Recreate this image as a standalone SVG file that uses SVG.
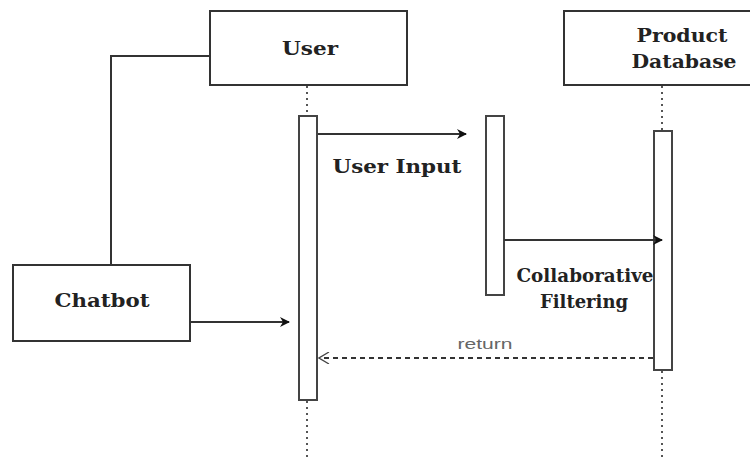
<svg xmlns="http://www.w3.org/2000/svg" width="750" height="457" viewBox="0 0 750 457">
<defs>
<marker id="fill" viewBox="0 0 10 10" refX="9" refY="5" markerWidth="10" markerHeight="10" markerUnits="userSpaceOnUse" orient="auto"><path d="M0,0 L10,5 L0,10 L3,5 Z" fill="#111"/></marker>
<marker id="open" viewBox="0 0 12 12" refX="11" refY="6" markerWidth="12" markerHeight="12" markerUnits="userSpaceOnUse" orient="auto"><path d="M1,0 L11,6 L1,12" fill="none" stroke="#444" stroke-width="1.3"/></marker>
<style>
.box{fill:#fff;stroke:#333;stroke-width:2}
.act{fill:#fff;stroke:#444;stroke-width:2}
.life{stroke:#555;stroke-width:2;stroke-dasharray:2,4;fill:none}
.line{stroke:#333;stroke-width:2;fill:none}
.t{font-family:"DejaVu Serif","Liberation Serif",serif;font-weight:bold;font-size:19px;fill:#222;text-anchor:middle}
.r{font-family:"Liberation Sans",sans-serif;font-size:14px;fill:#666;text-anchor:middle}
</style>
</defs>
<g id="lifelines">
<path class="life" d="M307,86 V115 M307,401 V457"/>
<path class="life" d="M662,86 V130 M662,371 V457"/>
</g>
<g id="user">
<rect class="box" x="210" y="11" width="197" height="74"/>
<text class="t" x="310" y="55" textLength="56" lengthAdjust="spacingAndGlyphs">User</text>
</g>
<g id="product-database">
<rect class="box" x="564" y="11" width="196" height="74"/>
<text class="t" x="682" y="42" textLength="91" lengthAdjust="spacingAndGlyphs">Product</text>
<text class="t" x="684" y="68" textLength="105" lengthAdjust="spacingAndGlyphs">Database</text>
</g>
<g id="chatbot">
<rect class="box" x="13" y="265" width="177" height="76"/>
<text class="t" x="102" y="307" textLength="95" lengthAdjust="spacingAndGlyphs">Chatbot</text>
</g>
<g id="user-activation"><rect class="act" x="299" y="116" width="18" height="284"/></g>
<g id="mid-activation"><rect class="act" x="486" y="116" width="18" height="179"/></g>
<g id="db-activation"><rect class="act" x="654" y="131" width="18" height="239"/></g>
<g id="connectors">
<path class="line" d="M210,56 H111 V265"/>
<path class="line" d="M190,322 H289" marker-end="url(#fill)"/>
<path class="line" d="M318,134 H466" marker-end="url(#fill)"/>
<path class="line" d="M504,240 H662" marker-end="url(#fill)"/>
<path class="line" d="M653,358 H319" stroke-dasharray="5,4" stroke="#444" stroke-width="1.5" marker-end="url(#open)"/>
</g>
<g id="labels">
<text class="t" x="397" y="173" textLength="129" lengthAdjust="spacingAndGlyphs">User Input</text>
<text class="t" x="585" y="282" textLength="137" lengthAdjust="spacingAndGlyphs">Collaborative</text>
<text class="t" x="584" y="308" textLength="88" lengthAdjust="spacingAndGlyphs">Filtering</text>
<text class="r" x="485" y="349" textLength="55" lengthAdjust="spacingAndGlyphs">return</text>
</g>
</svg>
